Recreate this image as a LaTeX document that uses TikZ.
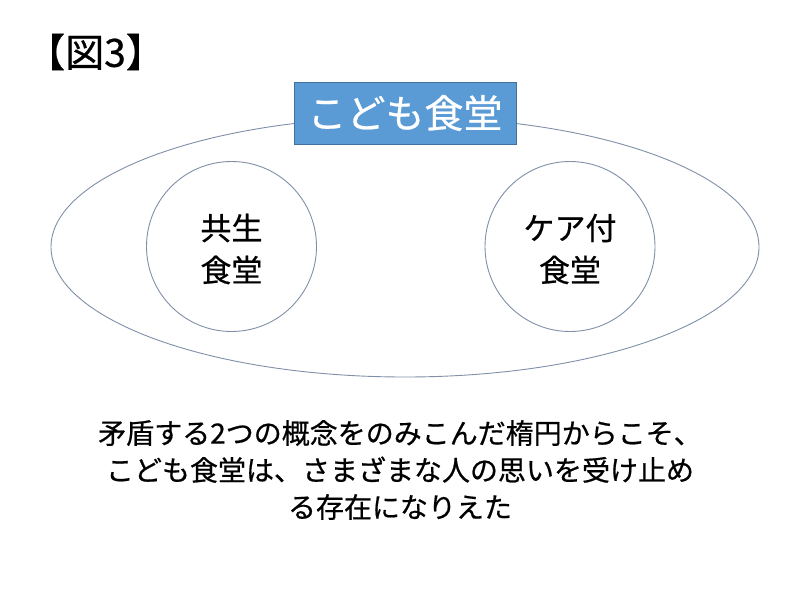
\documentclass[tikz,border=0pt]{standalone}
\usepackage{fontspec}
\setmainfont{Noto Sans CJK JP}[FakeBold=0.6]
\definecolor{boxblue}{HTML}{5B9BD5}
\definecolor{boxedge}{HTML}{41719C}
\definecolor{linegray}{HTML}{8090A8}
\begin{document}
\begin{tikzpicture}[x=1pt,y=-1pt,
  outline/.style={draw=linegray,line width=0.9pt},
  labeltext/.style={align=center,font=\fontsize{31}{42}\selectfont,inner sep=0pt}]
\useasboundingbox[fill=white] (0,0) rectangle (800,600);
\node[anchor=west,inner sep=0pt,font=\fontsize{39}{40}\selectfont] (title) at (26,52) {【図3】};
\draw[outline] (405,247) ellipse [x radius=354, y radius=130];
\node[outline,circle,minimum size=170pt,inner sep=0pt] (left) at (231.5,246.5) {};
\node[outline,circle,minimum size=170pt,inner sep=0pt] (right) at (570,246.5) {};
\node[labeltext] (lefttext) at (231.5,249) {共生\\食堂};
\node[labeltext] (righttext) at (570,249) {ケア付\\食堂};
\node[fill=boxblue,draw=boxedge,line width=0.8pt,minimum width=222pt,minimum height=62pt,inner sep=0pt,text=white,font=\fontsize{39}{40}\selectfont] (kodomo) at (405,113) {こども食堂};
\node[align=center,inner sep=0pt,font=\fontsize{28}{37}\selectfont] (caption) at (400,470) {矛盾する2つの概念をのみこんだ楕円からこそ、\\こども食堂は、さまざまな人の思いを受け止め\\る存在になりえた};
\end{tikzpicture}
\end{document}
